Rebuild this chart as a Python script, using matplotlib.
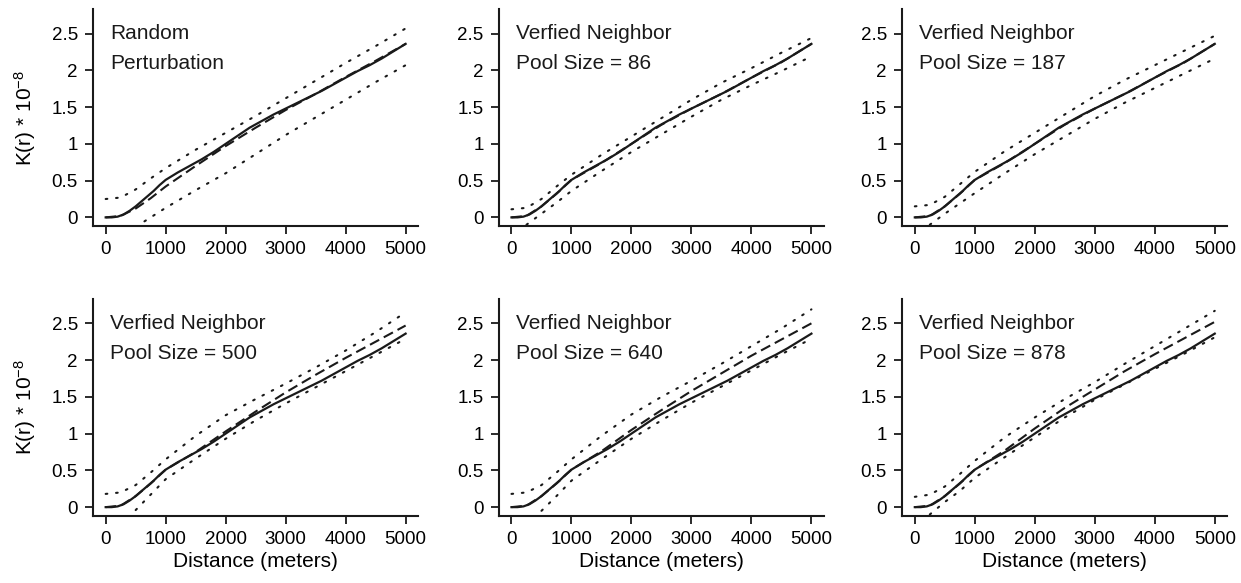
import numpy as np
import matplotlib
matplotlib.use("Agg")
import matplotlib.pyplot as plt

plt.rcParams['font.family'] = ['Liberation Sans', 'DejaVu Sans']
plt.rcParams['mathtext.fontset'] = 'custom'
plt.rcParams['mathtext.rm'] = 'Liberation Sans'
plt.rcParams['mathtext.it'] = 'Liberation Sans'

nan = np.nan

# observed K(r) (same data in every panel), units of 1e8
obs_r = [0, 100, 200, 300, 400, 500, 600, 700, 800, 900, 1000, 1100, 1200, 1400, 1600,
         1800, 2000, 2200, 2400, 2600, 2800, 3000, 3200, 3400, 3600, 3800, 4000, 4200,
         4400, 4600, 4800, 5000]
obs_k = [0, 0, 0.01, 0.04, 0.09, 0.15, 0.22, 0.29, 0.36, 0.44, 0.51, 0.56, 0.61, 0.70, 0.79,
         0.89, 1.0, 1.11, 1.22, 1.31, 1.40, 1.48, 1.56, 1.64, 1.72, 1.81, 1.90, 1.99,
         2.07, 2.16, 2.26, 2.36]

# envelopes and mean of the simulated patterns
env_r = [0, 250, 500, 750, 1000, 1500, 2000, 2500, 3000, 3500, 4000, 4500, 5000]

titles = ["Random\nPerturbation",
          "Verfied Neighbor\nPool Size = 86",
          "Verfied Neighbor\nPool Size = 187",
          "Verfied Neighbor\nPool Size = 500",
          "Verfied Neighbor\nPool Size = 640",
          "Verfied Neighbor\nPool Size = 878"]

mean_k = [
    [0, 0.02, 0.12, 0.26, 0.42, 0.70, 0.97, 1.22, 1.46, 1.68, 1.91, 2.13, 2.36],
    [0, 0.02, 0.15, 0.32, 0.51, 0.74, 1.00, 1.26, 1.48, 1.68, 1.90, 2.11, 2.36],
    [0, 0.02, 0.15, 0.32, 0.51, 0.74, 1.00, 1.26, 1.48, 1.68, 1.90, 2.11, 2.36],
    [0, 0.02, 0.15, 0.32, 0.51, 0.75, 1.03, 1.30, 1.56, 1.80, 2.03, 2.25, 2.47],
    [0, 0.02, 0.15, 0.32, 0.51, 0.76, 1.05, 1.32, 1.58, 1.82, 2.06, 2.28, 2.50],
    [0, 0.02, 0.15, 0.32, 0.51, 0.77, 1.07, 1.35, 1.60, 1.85, 2.08, 2.30, 2.52],
]
upper_k = [
    [0.25, 0.27, 0.38, 0.53, 0.67, 0.92, 1.15, 1.38, 1.62, 1.86, 2.10, 2.33, 2.57],
    [0.11, 0.13, 0.25, 0.42, 0.58, 0.85, 1.10, 1.35, 1.60, 1.83, 2.03, 2.24, 2.44],
    [0.15, 0.17, 0.28, 0.45, 0.62, 0.90, 1.15, 1.40, 1.65, 1.87, 2.07, 2.27, 2.47],
    [0.18, 0.20, 0.30, 0.47, 0.65, 0.97, 1.25, 1.47, 1.68, 1.90, 2.13, 2.38, 2.65],
    [0.18, 0.20, 0.30, 0.47, 0.65, 0.97, 1.26, 1.50, 1.72, 1.95, 2.19, 2.43, 2.69],
    [0.14, 0.17, 0.28, 0.45, 0.63, 0.95, 1.22, 1.47, 1.70, 1.95, 2.19, 2.43, 2.67],
]
lower_k = [
    [nan, nan, -0.13, 0.00, 0.13, 0.37, 0.60, 0.86, 1.12, 1.36, 1.60, 1.84, 2.07],
    [nan, -0.10, 0.05, 0.20, 0.36, 0.63, 0.89, 1.13, 1.37, 1.60, 1.80, 1.99, 2.19],
    [nan, -0.10, 0.05, 0.19, 0.33, 0.60, 0.86, 1.10, 1.34, 1.56, 1.76, 1.96, 2.16],
    [nan, nan, -0.04, 0.17, 0.38, 0.66, 0.93, 1.18, 1.41, 1.63, 1.85, 2.07, 2.29],
    [nan, nan, -0.05, 0.15, 0.36, 0.65, 0.93, 1.18, 1.42, 1.64, 1.86, 2.08, 2.29],
    [nan, -0.10, 0.07, 0.22, 0.40, 0.68, 0.95, 1.22, 1.46, 1.67, 1.88, 2.09, 2.31],
]

col = '#1a1a1a'
fig = plt.figure(figsize=(12.41, 5.83), dpi=100)

lefts = [0.075, 0.402, 0.727]
bottoms = [0.612, 0.115]
w, h = 0.262, 0.372

for i in range(6):
    ax = fig.add_axes([lefts[i % 3], bottoms[i // 3], w, h])
    ax.plot(env_r, mean_k[i], color=col, lw=1.5, ls=(0, (5, 2.5)))
    ax.plot(obs_r, obs_k, color=col, lw=1.6)
    ax.plot(env_r, upper_k[i], color=col, lw=1.5, ls=(0, (0.8, 4.2)), dash_capstyle='round')
    ax.plot(env_r, lower_k[i], color=col, lw=1.5, ls=(0, (0.8, 4.2)), dash_capstyle='round')

    ax.set_xlim(-210, 5210)
    ax.set_ylim(-0.12, 2.83)
    ax.set_xticks([0, 1000, 2000, 3000, 4000, 5000])
    ax.set_yticks([0, 0.5, 1, 1.5, 2, 2.5])
    ax.set_yticklabels(['0', '0.5', '1', '1.5', '2', '2.5'])
    for s in ['top', 'right']:
        ax.spines[s].set_visible(False)
    for s in ['left', 'bottom']:
        ax.spines[s].set_linewidth(1.5)
        ax.spines[s].set_color(col)
    ax.tick_params(direction='out', length=6, width=1.3, labelsize=13.5, color=col, pad=5)
    ax.set_facecolor('none')

    line1, line2 = titles[i].split('\n')
    ax.text(70, 2.5, line1, fontsize=15, va='center', ha='left', color=col)
    ax.text(70, 2.09, line2, fontsize=15, va='center', ha='left', color=col)

    if i % 3 == 0:
        ax.set_ylabel('K(r) * 10$^{-8}$', fontsize=15)
        ax.yaxis.set_label_coords(-0.17, 0.5)
    if i // 3 == 1:
        ax.set_xlabel('Distance (meters)', fontsize=15, labelpad=3)

fig.savefig('out.png', dpi=100)
